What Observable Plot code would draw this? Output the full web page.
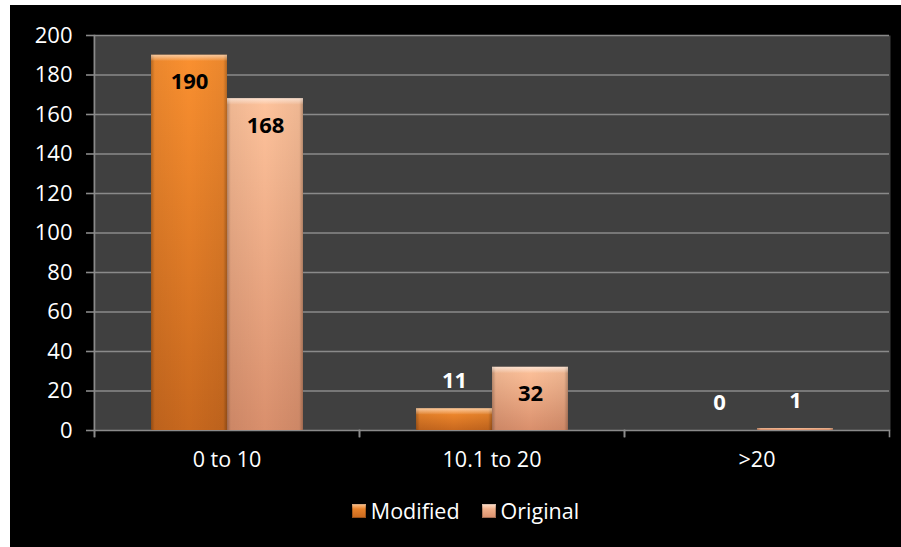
<!DOCTYPE html>
<html>
<head>
<meta charset="utf-8">
<script src="https://cdn.jsdelivr.net/npm/d3@7"></script>
<script src="https://cdn.jsdelivr.net/npm/@observablehq/plot@0.6"></script>
<style>
  html, body { margin: 0; padding: 0; background: #ffffff; }
  #panel {
    position: absolute; left: 10px; top: 5px;
    width: 891px; height: 542px; background: #000000;
    font-family: "Open Sans", sans-serif; color: #ffffff;
  }
  #legend {
    display: flex; justify-content: center; align-items: center;
    gap: 22px; padding-top: 12px; padding-left: 20px;
    font-size: 21.5px; line-height: 28px;
  }
  .item { display: flex; align-items: center; gap: 5px; }
  .swatch { width: 14px; height: 14px; position: relative; }
  .swatch::after {
    content: ""; position: absolute; left: 0; right: 0; top: 0; height: 5px;
    background: linear-gradient(rgba(255,255,255,0.45), rgba(255,255,255,0));
  }
</style>
</head>
<body>
<div id="panel">
  <div id="chart"></div>
  <div id="legend"></div>
</div>
<script>
// Counts per range, for the modified and the original method
const categories = ["0 to 10", "10.1 to 20", ">20"];
const series = ["Modified", "Original"];
const modified = [190, 11, 0];
const original = [168, 32, 1];
const yTicks = [0, 20, 40, 60, 80, 100, 120, 140, 160, 180, 200];

const seriesColors = {
  Modified: ["#fa9030", "#c8681e"],
  Original: ["#fec39c", "#d98f6c"]
};
const gradientIds = {Modified: "grad-modified", Original: "grad-original"};

const rows = categories.flatMap((category, i) => [
  {category, series: series[0], value: modified[i]},
  {category, series: series[1], value: original[i]}
]);

const grid = "#8a8a8a";
const inside = d => d.value >= 20;

const svg = Plot.plot({
  width: 891,
  height: 480,
  marginLeft: 83,
  marginRight: 12,
  marginTop: 30,
  marginBottom: 55,
  style: {background: "#000000", color: "#ffffff", fontFamily: "Open Sans, sans-serif"},
  fx: {domain: categories, padding: 0, axis: null},
  x: {domain: series, paddingInner: 0, paddingOuter: 0.73, axis: null},
  y: {domain: [0, 200], axis: null},
  color: {domain: series, range: series.map(s => `url(#${gradientIds[s]})`)},
  marks: [
    // plot area background (overlapping slightly so facets join without seams)
    Plot.frame({fill: "#404040", insetLeft: -1, insetRight: -1}),
    Plot.gridY({ticks: yTicks, stroke: grid, strokeOpacity: 1, strokeWidth: 1.6}),
    // left axis line and category boundary ticks
    Plot.frame({anchor: "left", facetAnchor: "left", stroke: grid, strokeWidth: 1.6, insetBottom: -6}),
    Plot.frame({anchor: "left", stroke: grid, strokeWidth: 1.6, insetTop: 395, insetBottom: -6}),
    Plot.frame({anchor: "right", stroke: grid, strokeWidth: 1.6, insetTop: 395, insetBottom: -6}),
    // bars
    Plot.barY(rows, {fx: "category", x: "series", y: "value", fill: "series"}),
    // darker bevel sides
    Plot.barY(rows, {fx: "category", x: "series", y: "value", fill: "url(#grad-edge)"}),
    // light bevel top
    Plot.barY(rows, {
      filter: d => d.value > 2,
      fx: "category", x: "series", y1: "value", y2: "value",
      insetBottom: -6, fill: "url(#grad-top)"
    }),
    // value labels
    Plot.text(rows, {
      filter: inside, fx: "category", x: "series", y: "value",
      text: d => String(d.value), dy: 27,
      fill: "#000000", fontSize: 22, fontWeight: "bold"
    }),
    Plot.text(rows, {
      filter: d => !inside(d), fx: "category", x: "series", y: "value",
      text: d => String(d.value), dy: -28,
      fill: "#ffffff", fontSize: 22, fontWeight: "bold"
    }),
    Plot.axisY({ticks: yTicks, tickSize: 8, tickPadding: 14, fontSize: 22, stroke: grid, strokeWidth: 1.6, label: null}),
    Plot.axisFx({anchor: "bottom", tickSize: 0, tickPadding: 21, fontSize: 21.5, label: null})
  ]
});

// gradients used by the bars
const defs = d3.select(svg).insert("defs", ":first-child");
for (const s of series) {
  const g = defs.append("linearGradient").attr("id", gradientIds[s])
    .attr("x1", 0).attr("y1", 0).attr("x2", 0).attr("y2", 1);
  g.append("stop").attr("offset", "0%").attr("stop-color", seriesColors[s][0]);
  g.append("stop").attr("offset", "100%").attr("stop-color", seriesColors[s][1]);
}
const edgeGradient = defs.append("linearGradient").attr("id", "grad-edge")
  .attr("x1", 0).attr("y1", 0).attr("x2", 1).attr("y2", 0);
[[0, 0.28], [0.05, 0.06], [0.5, 0], [0.95, 0.06], [1, 0.28]].forEach(([o, a]) =>
  edgeGradient.append("stop").attr("offset", o).attr("stop-color", "#000").attr("stop-opacity", a));
const topGradient = defs.append("linearGradient").attr("id", "grad-top")
  .attr("x1", 0).attr("y1", 0).attr("x2", 0).attr("y2", 1);
[[0, 0.55], [1, 0.05]].forEach(([o, a]) =>
  topGradient.append("stop").attr("offset", o).attr("stop-color", "#fff").attr("stop-opacity", a));

document.getElementById("chart").appendChild(svg);

// legend
const legend = d3.select("#legend");
for (const s of series) {
  const item = legend.append("div").attr("class", "item");
  item.append("div").attr("class", "swatch")
    .style("background", `linear-gradient(${seriesColors[s][0]}, ${seriesColors[s][1]})`)
    .style("box-shadow", "inset 0 0 0 1px rgba(0,0,0,0.25)");
  item.append("span").text(s);
}
</script>
</body>
</html>
